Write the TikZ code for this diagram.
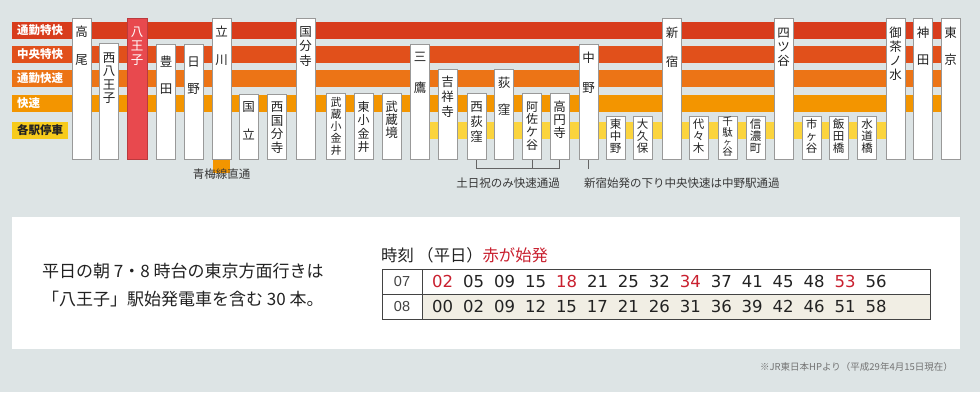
\documentclass[tikz,border=0pt]{standalone}
\usepackage{fontspec}
\setmainfont{Noto Sans CJK JP}
\newfontfamily\numfont[WordSpace=1.9]{DejaVu Sans}
\newfontfamily\hourfont{Liberation Sans}
\usetikzlibrary{positioning}

\definecolor{bg}{HTML}{DDE4E5}
\definecolor{tsutoku}{HTML}{D83C1C}
\definecolor{chutoku}{HTML}{E1501B}
\definecolor{tsukai}{HTML}{EC7416}
\definecolor{kaisoku}{HTML}{F39500}
\definecolor{kakueki}{HTML}{F7CB1B}
\definecolor{kakuband}{HTML}{FBD43E}
\definecolor{hachired}{HTML}{E8494E}
\definecolor{startred}{HTML}{C9202F}
\definecolor{beige}{HTML}{F1EEE4}
\definecolor{ink}{HTML}{222222}

\begin{document}
\begin{tikzpicture}[x=1pt,y=-1pt]
        \tikzstyle{stn}=[rectangle,draw=gray!80,line width=0.8,fill=white,minimum width=19,inner sep=0,anchor=north]
        \tikzstyle{stname}=[align=center,inner sep=0,text=ink,font=\fontsize{12.5}{14}\selectfont]
        \tikzstyle{lbl}=[anchor=west,inner sep=0,text=white,font=\bfseries\fontsize{11.5}{12}\selectfont]
        \tikzstyle{note}=[inner sep=0,text=ink!90,font=\fontsize{11.5}{12}\selectfont]
        \useasboundingbox (0,0) rectangle (980,392);
        \fill[bg] (0,0) rectangle (980,392);

        % train types
        \fill[tsutoku] (12,22) rectangle (950,39);
        \fill[chutoku] (12,46) rectangle (950,63);
        \fill[tsukai] (12,70) rectangle (950,87);
        \fill[kaisoku] (12,95) rectangle (950,112);
        \fill[kakueki] (12,122) rectangle (68,139);
        \fill[kakuband] (420,122) rectangle (895,139);
        \node[lbl] (tsutoku-l) at (17,30.5) {通勤特快};
        \node[lbl] (chutoku-l) at (17,54.5) {中央特快};
        \node[lbl] (tsukai-l) at (17,78.5) {通勤快速};
        \node[lbl] (kaisoku-l) at (17,103.5) {快速};
        \node[lbl,text=ink] (kakueki-l) at (17,130.5) {各駅停車};

        % stations
        \node[stn,minimum height=141] (takao) at (81.5,18) {};
        \node[stname] (takao-n) at (81.5,46) {高\\[14pt]尾};
        \node[stn,minimum height=116] (nishihachioji) at (109,43) {};
        \node[stname,font=\fontsize{12.5}{13.5}\selectfont] (nishihachioji-n) at (109,78) {西\\八\\王\\子};
        \node[stn,minimum height=141,fill=hachired,draw=hachired!80!black,minimum width=20] (hachioji) at (137,18) {};
        \node[stname,text=white] (hachioji-n) at (137,46) {八\\王\\子};
        \node[stn,minimum height=115] (toyoda) at (166,44) {};
        \node[stname] (toyoda-n) at (166,75.5) {豊\\[13pt]田};
        \node[stn,minimum height=115] (hino) at (193.5,44) {};
        \node[stname] (hino-n) at (193.5,75.5) {日\\[13pt]野};
        \node[stn,minimum height=141] (tachikawa) at (221.5,18) {};
        \node[stname] (tachikawa-n) at (221.5,46) {立\\[14pt]川};
        \node[stn,minimum height=65] (kunitachi) at (248.5,94) {};
        \node[stname] (kunitachi-n) at (248.5,121) {国\\[14pt]立};
        \node[stn,minimum height=65] (nishikokubunji) at (277,94) {};
        \node[stname,font=\fontsize{12.5}{13.7}\selectfont] (nishikokubunji-n) at (277,127.5) {西\\国\\分\\寺};
        \node[stn,minimum height=141] (kokubunji) at (305.5,18) {};
        \node[stname,font=\fontsize{12.5}{14.5}\selectfont] (kokubunji-n) at (305.5,46.5) {国\\分\\寺};
        \node[stn,minimum height=66] (musashikoganei) at (336,93) {};
        \node[stname,font=\fontsize{11}{12}\selectfont] (musashikoganei-n) at (336,126) {武\\蔵\\小\\金\\井};
        \node[stn,minimum height=66] (higashikoganei) at (363.5,93) {};
        \node[stname,font=\fontsize{12}{13.3}\selectfont] (higashikoganei-n) at (363.5,127) {東\\小\\金\\井};
        \node[stn,minimum height=66] (musashisakai) at (391.5,93) {};
        \node[stname,font=\fontsize{12.5}{13}\selectfont] (musashisakai-n) at (391.5,120) {武\\蔵\\境};
        \node[stn,minimum height=115] (mitaka) at (420,44) {};
        \node[stname] (mitaka-n) at (420,72.5) {三\\[17pt]鷹};
        \node[stn,minimum height=90] (kichijoji) at (447.5,69) {};
        \node[stname,font=\fontsize{12.5}{15}\selectfont] (kichijoji-n) at (447.5,97) {吉\\祥\\寺};
        \node[stn,minimum height=66] (nishiogikubo) at (476.5,93) {};
        \node[stname,font=\fontsize{12.5}{15}\selectfont] (nishiogikubo-n) at (476.5,122) {西\\荻\\窪};
        \node[stn,minimum height=90] (ogikubo) at (504,69) {};
        \node[stname] (ogikubo-n) at (504,96.5) {荻\\[13pt]窪};
        \node[stn,minimum height=66] (asagaya) at (532,93) {};
        \node[stname,font=\fontsize{12}{12.7}\selectfont] (asagaya-n) at (532,126) {阿\\佐\\ケ\\谷};
        \node[stn,minimum height=66] (koenji) at (559.5,93) {};
        \node[stname,font=\fontsize{12.5}{13}\selectfont] (koenji-n) at (559.5,120) {高\\円\\寺};
        \node[stn,minimum height=115] (nakano) at (588.5,44) {};
        \node[stname] (nakano-n) at (588.5,73) {中\\[16pt]野};
        \node[stn,minimum height=43] (higashinakano) at (615.5,116) {};
        \node[stname,font=\fontsize{11.5}{12}\selectfont] (higashinakano-n) at (615.5,136) {東\\中\\野};
        \node[stn,minimum height=43] (okubo) at (642.5,116) {};
        \node[stname,font=\fontsize{11.5}{12}\selectfont] (okubo-n) at (642.5,136) {大\\久\\保};
        \node[stn,minimum height=141] (shinjuku) at (672,18) {};
        \node[stname] (shinjuku-n) at (672,47.5) {新\\[15pt]宿};
        \node[stn,minimum height=43] (yoyogi) at (698.5,116) {};
        \node[stname,font=\fontsize{11.5}{12}\selectfont] (yoyogi-n) at (698.5,136) {代\\々\\木};
        \node[stn,minimum height=43] (sendagaya) at (727.5,116) {};
        \node[stname,font=\fontsize{10.5}{9.6}\selectfont] (sendagaya-n) at (727.5,136.5) {千\\駄\\{\fontsize{8.5}{9}\selectfont ヶ}\\谷};
        \node[stn,minimum height=43] (shinanomachi) at (755.5,116) {};
        \node[stname,font=\fontsize{11.5}{12}\selectfont] (shinanomachi-n) at (755.5,136) {信\\濃\\町};
        \node[stn,minimum height=141] (yotsuya) at (783.5,18) {};
        \node[stname] (yotsuya-n) at (783.5,47) {四\\ツ\\谷};
        \node[stn,minimum height=43] (ichigaya) at (811.5,116) {};
        \node[stname,font=\fontsize{11.5}{12}\selectfont] (ichigaya-n) at (811.5,136) {市\\ヶ\\谷};
        \node[stn,minimum height=43] (iidabashi) at (838.5,116) {};
        \node[stname,font=\fontsize{11.5}{12}\selectfont] (iidabashi-n) at (838.5,136) {飯\\田\\橋};
        \node[stn,minimum height=43] (suidobashi) at (867,116) {};
        \node[stname,font=\fontsize{11.5}{12}\selectfont] (suidobashi-n) at (867,136) {水\\道\\橋};
        \node[stn,minimum height=141] (ochanomizu) at (895.5,18) {};
        \node[stname] (ochanomizu-n) at (895.5,54) {御\\茶\\ノ\\水};
        \node[stn,minimum height=141] (kanda) at (923,18) {};
        \node[stname] (kanda-n) at (923,46.5) {神\\[13pt]田};
        \node[stn,minimum height=141] (tokyo) at (950.5,18) {};
        \node[stname] (tokyo-n) at (950.5,46.5) {東\\[13pt]京};

        % notes under the line
        \node[fill=kaisoku,minimum width=17,minimum height=13,inner sep=0,anchor=north] (ome) at (tachikawa.south) {};
        \node[note,below=4.5 of ome] (ome-n) {青梅線直通};
        \draw[ink!70,line width=0.7] (nishiogikubo.south) -- ++(0,9) -| (koenji.south);
        \draw[ink!70,line width=0.7] (asagaya.south) -- ++(0,9);
        \draw[ink!70,line width=0.7] (nakano.south) -- ++(0,9);
        \node[note] (weekend-n) at (508,183) {土日祝のみ快速通過};
        \node[note,anchor=west] (nakano-pass) at (584,183) {新宿始発の下り中央快速は中野駅通過};

        % timetable panel
        \fill[white] (12,217) rectangle (960,349);
        \node[anchor=west,inner sep=0,align=left,text=ink,font=\fontsize{17}{28}\selectfont] (summary) at (42,285)
            {平日の朝 7・8 時台の東京方面行きは\\「八王子」駅始発電車を含む 30 本。};
        \node[anchor=west,inner sep=0,text=ink,font=\fontsize{16.3}{17}\selectfont] (head) at (381,255)
            {時刻 （平日）\textcolor{startred}{赤が始発}};
        \fill[beige] (422,294) rectangle (930,319);
        \draw[ink!85,line width=1] (382,269) rectangle (930,319);
        \draw[ink!85,line width=1] (382,294) -- (930,294);
        \draw[ink!85,line width=1] (422,269) -- (422,319);
        \node[inner sep=0,text=ink!85,font=\hourfont\fontsize{14.5}{15}\selectfont] (h07) at (402,281.5) {07};
        \node[inner sep=0,text=ink!85,font=\hourfont\fontsize{14.5}{15}\selectfont] (h08) at (402,306.5) {08};
        \node[anchor=west,inner sep=0,text=ink,font=\numfont\fontsize{16.5}{17}\selectfont] (t07) at (432,281.5)
            {\textcolor{startred}{02} 05 09 15 \textcolor{startred}{18} 21 25 32 \textcolor{startred}{34} 37 41 45 48 \textcolor{startred}{53} 56};
        \node[anchor=west,inner sep=0,text=ink,font=\numfont\fontsize{16.5}{17}\selectfont] (t08) at (432,306.5)
            {00 02 09 12 15 17 21 26 31 36 39 42 46 51 58};
        \node[anchor=east,inner sep=0,text=gray!90!black,font=\fontsize{9.5}{10}\selectfont] (source) at (953,367)
            {※JR東日本HPより（平成29年4月15日現在）};
\end{tikzpicture}
\end{document}
